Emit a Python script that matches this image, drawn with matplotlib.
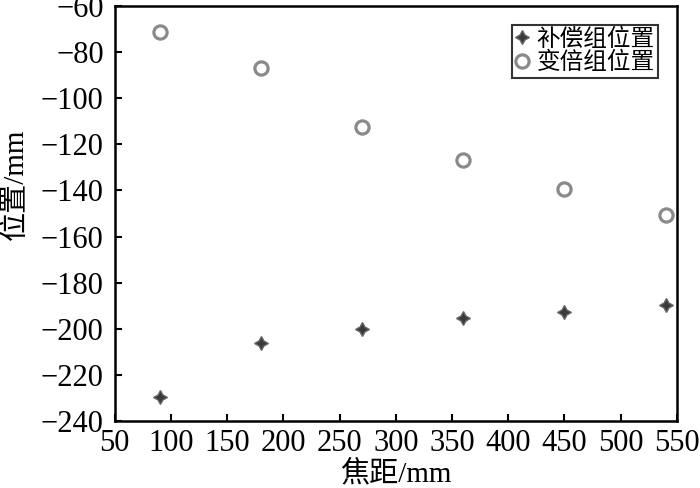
import matplotlib
matplotlib.use("Agg")
import matplotlib.pyplot as plt

focal = [90, 180, 270, 360, 450, 540]
comp_pos = [-229.5, -206, -200, -195.5, -192.5, -189.5]
zoom_pos = [-71.5, -87, -112.5, -127, -139.5, -150.5]
xticks = [50, 100, 150, 200, 250, 300, 350, 400, 450, 500, 550]
yticks = [-240, -220, -200, -180, -160, -140, -120, -100, -80, -60]

plt.rcParams['font.family'] = ['Liberation Serif', 'Noto Sans CJK SC']
plt.rcParams['axes.unicode_minus'] = True

fig = plt.figure(figsize=(7, 4.88), dpi=100)
ax = fig.add_axes([0.164, 0.137, 0.803, 0.851])

ax.plot(focal, comp_pos, linestyle='none', marker=(4, 1, 0), markersize=10,
        color='#3a3a3a', markeredgecolor='#666666', markeredgewidth=1.0,
        label='补偿组位置')
ax.plot(focal, zoom_pos, linestyle='none', marker='o', markersize=9.5,
        markerfacecolor='none', markeredgecolor='#8a8a8a', markeredgewidth=2.3,
        label='变倍组位置')

ax.set_xlim(50, 550)
ax.set_ylim(-240, -60)
ax.set_xticks(xticks)
ax.set_yticks(yticks)
ax.tick_params(direction='in', length=5, width=1.5, labelsize=22, top=False, right=False)
ax.tick_params(axis='x', pad=6)
ax.tick_params(axis='y', pad=8)
for s in ax.spines.values():
    s.set_linewidth(1.8)

ax.set_xlabel('焦距/mm', fontsize=21, labelpad=1)
ax.set_ylabel('位置/mm', fontsize=21)
ax.yaxis.set_label_coords(-0.152, 0.57)

leg = ax.legend(loc='upper right', fontsize=17, frameon=True, fancybox=False,
                edgecolor='black', handlelength=0.6, handletextpad=0.3,
                borderpad=0.15, labelspacing=0.05, borderaxespad=0.8)
leg.get_frame().set_linewidth(1.5)

fig.savefig('out.png', dpi=100)
